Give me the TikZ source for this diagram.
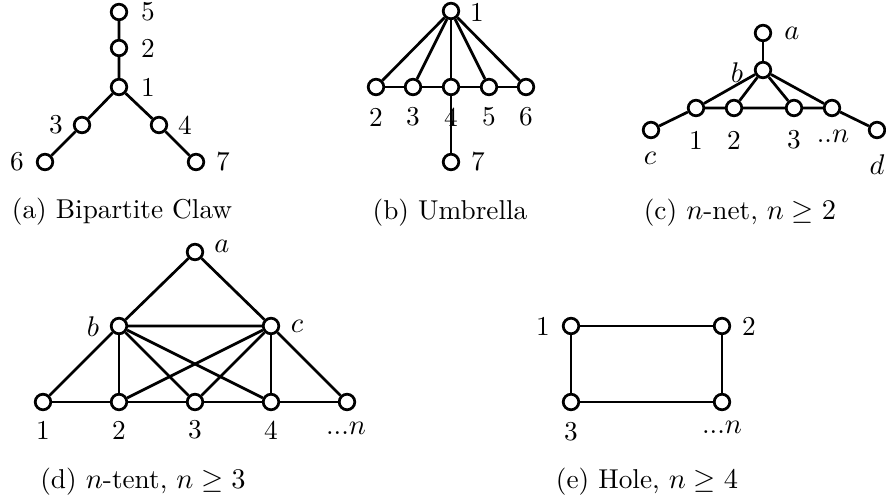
\documentclass[tikz,border=0pt]{standalone}
\usepackage{amssymb}
\begin{document}
\begin{tikzpicture}[x=0.385pt,y=-0.385pt,
 font=\fontsize{10.5}{12.6}\selectfont,
 vtx/.style={circle,draw,line width=1.05pt,fill=white,minimum size=6pt,inner sep=0pt},
 edge/.style={line width=1.05pt},
 lbl/.style={inner sep=0pt}]
\useasboundingbox (0,0) rectangle (886,504);
% (a) Bipartite Claw
\node[vtx] (a5) at (119,12) {};
\node[vtx] (a2) at (119,48) {};
\node[vtx] (a1) at (119,87) {};
\node[vtx] (a3) at (82,125) {};
\node[vtx] (a4) at (159,125) {};
\node[vtx] (a6) at (45,162) {};
\node[vtx] (a7) at (196,162) {};
\draw[edge] (a5) -- (a2) -- (a1) -- (a3) -- (a6);
\draw[edge] (a1) -- (a4) -- (a7);
\node[lbl] (la5) at (148,12) {5};
\node[lbl] (la2) at (148,48) {2};
\node[lbl] (la1) at (148,87) {1};
\node[lbl] (la3) at (56,125) {3};
\node[lbl] (la4) at (185,125) {4};
\node[lbl] (la6) at (17,162) {6};
\node[lbl] (la7) at (223,162) {7};
\node[lbl] (capa) at (122,212) {(a) Bipartite Claw};
% (b) Umbrella
\node[vtx] (b1) at (451,11) {};
\node[vtx] (b2) at (376,87) {};
\node[vtx] (b3) at (413,87) {};
\node[vtx] (b4) at (451,87) {};
\node[vtx] (b5) at (489,87) {};
\node[vtx] (b6) at (526,87) {};
\node[vtx] (b7) at (451,162) {};
\draw[edge] (b1) -- (b2); \draw[edge] (b1) -- (b3); \draw[edge] (b1) -- (b4);
\draw[edge] (b1) -- (b5); \draw[edge] (b1) -- (b6);
\draw[edge] (b2) -- (b3) -- (b4) -- (b5) -- (b6);
\draw[edge] (b4) -- (b7);
\node[lbl] (lb1) at (477,12) {1};
\node[lbl] (lb2) at (376,117) {2};
\node[lbl] (lb3) at (413,117) {3};
\node[lbl] (lb4) at (451,117) {4};
\node[lbl] (lb5) at (489,117) {5};
\node[lbl] (lb6) at (526,117) {6};
\node[lbl] (lb7) at (478,162) {7};
\node[lbl] (capb) at (450,213) {(b) Umbrella};
% (c) n-net
\node[vtx] (ca) at (763,33) {};
\node[vtx] (cb) at (763,70) {};
\node[vtx] (c1) at (696,108) {};
\node[vtx] (c2) at (734,108) {};
\node[vtx] (c3) at (794,108) {};
\node[vtx] (cn) at (832,108) {};
\node[vtx] (cc) at (651,130) {};
\node[vtx] (cd) at (877,130) {};
\draw[edge] (ca) -- (cb);
\draw[edge] (cb) -- (c1); \draw[edge] (cb) -- (c2); \draw[edge] (cb) -- (c3); \draw[edge] (cb) -- (cn);
\draw[edge] (cc) -- (c1) -- (c2) -- (c3) -- (cn) -- (cd);
\node[lbl] (lca) at (792,33) {$a$};
\node[lbl] (lcb) at (737,73) {$b$};
\node[lbl] (lc1) at (696,140) {1};
\node[lbl] (lc2) at (734,140) {2};
\node[lbl] (lc3) at (794,140) {3};
\node[lbl] (lcn) at (833,136) {..$n$};
\node[lbl] (lcc) at (650,158) {$c$};
\node[lbl] (lcd) at (877,165) {$d$};
\node[lbl] (capc) at (740,213) {(c) $n$-net, $n\geq 2$};
% (d) n-tent
\node[vtx] (da) at (195,252) {};
\node[vtx] (db) at (119,326) {};
\node[vtx] (dc) at (271,326) {};
\node[vtx] (d1) at (43,402) {};
\node[vtx] (d2) at (119,402) {};
\node[vtx] (d3) at (195,402) {};
\node[vtx] (d4) at (271,402) {};
\node[vtx] (dn) at (347,402) {};
\draw[edge] (db) -- (da) -- (dc) -- (db);
\draw[edge] (db) -- (d1); \draw[edge] (db) -- (d2); \draw[edge] (db) -- (d3); \draw[edge] (db) -- (d4);
\draw[edge] (dc) -- (d2); \draw[edge] (dc) -- (d3); \draw[edge] (dc) -- (d4); \draw[edge] (dc) -- (dn);
\draw[edge] (d1) -- (d2) -- (d3) -- (d4) -- (dn);
\node[lbl] (lda) at (222,246) {$a$};
\node[lbl] (ldb) at (93,327) {$b$};
\node[lbl] (ldc) at (297,326) {$c$};
\node[lbl] (ld1) at (43,430) {1};
\node[lbl] (ld2) at (119,430) {2};
\node[lbl] (ld3) at (195,430) {3};
\node[lbl] (ld4) at (271,430) {4};
\node[lbl] (ldn) at (346,428) {...$n$};
\node[lbl] (capd) at (143,482) {(d) $n$-tent, $n\geq 3$};
% (e) Hole
\node[vtx] (e1) at (571,326) {};
\node[vtx] (e2) at (722,326) {};
\node[vtx] (e3) at (571,402) {};
\node[vtx] (en) at (722,402) {};
\draw[edge] (e1) -- (e2) -- (en) -- (e3) -- (e1);
\node[lbl] (le1) at (543,326) {1};
\node[lbl] (le2) at (749,326) {2};
\node[lbl] (le3) at (571,432) {3};
\node[lbl] (len) at (722,427) {...$n$};
\node[lbl] (cape) at (647,482) {(e) Hole, $n\geq 4$};
\end{tikzpicture}
\end{document}
